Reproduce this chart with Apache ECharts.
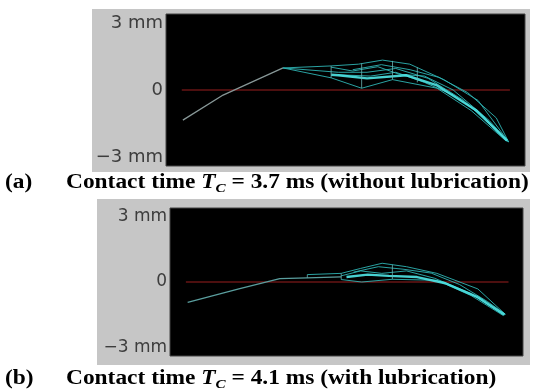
<!DOCTYPE html>
<html>
<head>
<meta charset="utf-8">
<script src="https://cdn.jsdelivr.net/npm/echarts@6/dist/echarts.min.js"></script>
<style>
html,body{margin:0;padding:0;background:#fff;}
#c{width:536px;height:391px;}
</style>
</head>
<body>
<div id="c"></div>
<script>
// ---- data (x: arbitrary position 0-100, y: displacement in mm) ----
var yTicks = [-3, 0, 3];
var yTickLabels = ['−3 mm', '0', '3 mm'];

// Panel (a): without lubrication
var aZeroX = [4.4, 95.8];
var aTrunkX = [4.7, 15.9, 32.6];
var aTrunkY = [-1.19, -0.20, 0.87];
var aUpperX = [32.6, 46.0, 53.6, 60.3, 67.9, 77.4, 86.9, 95.4];
var aUpperY = [0.87, 0.95, 1.02, 1.18, 1.02, 0.41, -0.41, -2.04];
var aLowerX = [32.6, 46.0, 54.5, 63.1, 75.5, 85.0, 94.4, 95.4];
var aLowerY = [0.87, 0.48, 0.07, 0.41, 0.07, -0.81, -1.97, -2.04];
var aMid1X = [32.6, 48.0, 56.0, 64.0, 73.0, 83.0, 92.0, 95.4];
var aMid1Y = [0.87, 0.70, 0.70, 0.85, 0.46, -0.42, -1.61, -2.04];
var aMid2X = [46.0, 52.0, 59.0, 65.0, 72.0, 80.0, 90.0, 95.4];
var aMid2Y = [0.90, 0.75, 0.92, 0.62, 0.55, 0.00, -1.20, -2.04];
var aMid3X = [48.0, 57.0, 64.0, 72.0, 80.0, 88.0, 95.4];
var aMid3Y = [0.60, 0.55, 0.70, 0.30, -0.20, -1.00, -2.04];
var aMid4X = [52.0, 60.0, 68.0, 76.0, 84.0, 92.0, 95.4];
var aMid4Y = [0.80, 1.00, 0.80, 0.50, -0.10, -1.10, -2.04];
var aBrightX = [46.0, 48.0, 56.0, 67.0, 75.5, 86.5, 95.0];
var aBrightY = [0.60, 0.58, 0.46, 0.58, 0.18, -0.81, -2.00];
var aRungX = [46.0, 54.5, 63.1, 70.0];
var aRungTop = [0.95, 1.05, 1.15, 0.90];
var aRungBottom = [0.48, 0.07, 0.41, 0.30];

// Panel (b): with lubrication
var bZeroX = [4.5, 95.9];
var bTrunkX = [5.0, 19.5, 31.1, 38.9, 48.5];
var bTrunkY = [-0.83, -0.28, 0.14, 0.17, 0.21];
var bUpperX = [38.9, 48.5, 54.0, 60.1, 67.0, 75.6, 87.2, 95.0];
var bUpperY = [0.30, 0.35, 0.55, 0.76, 0.62, 0.35, -0.28, -1.31];
var bLowerX = [48.5, 54.3, 63.0, 75.6, 85.3, 94.4];
var bLowerY = [0.10, 0.00, 0.11, 0.07, -0.55, -1.36];
var bMid1X = [48.5, 54.0, 60.0, 67.0, 75.0, 85.0, 94.6];
var bMid1Y = [0.25, 0.45, 0.35, 0.45, 0.15, -0.45, -1.34];
var bMid2X = [52.0, 59.0, 66.0, 74.0, 82.0, 90.0, 95.0];
var bMid2Y = [0.40, 0.62, 0.52, 0.36, -0.10, -0.80, -1.31];
var bBrightX = [50.0, 56.0, 62.0, 70.0, 78.0, 87.0, 94.8];
var bBrightY = [0.20, 0.30, 0.25, 0.20, -0.05, -0.60, -1.33];
var bRungX = [38.9, 48.5, 63.0];
var bRungTop = [0.30, 0.35, 0.70];
var bRungBottom = [0.17, 0.10, 0.11];

var captionA = ['(a)', 'Contact time ', 'T', 'C', ' = 3.7 ms (without lubrication)'];
var captionB = ['(b)', 'Contact time ', 'T', 'C', ' = 4.1 ms (with lubrication)'];

// ---- build ----
function pts(xs, ys) { return xs.map(function (x, i) { return [x, ys[i]]; }); }
function lineSeries(idx, xs, ys, color, width, opacity) {
  return {
    type: 'line', xAxisIndex: idx, yAxisIndex: idx, data: pts(xs, ys),
    showSymbol: false, symbol: 'none', silent: true, animation: false,
    lineStyle: { color: color, width: width, opacity: opacity }
  };
}
var series = [];
function panel(idx, zx, trunk, trunkColor, curves, bright, rungs) {
  series.push(lineSeries(idx, zx, [0, 0], '#9a1e1e', 1, 1));
  series.push(lineSeries(idx, trunk[0], trunk[1], trunkColor, 1.3, 1));
  curves.forEach(function (c) { series.push(lineSeries(idx, c[0], c[1], '#2fb4b4', 1, 0.9)); });
  series.push(lineSeries(idx, bright[0], bright[1], '#4fe6e6', 2.4, 0.9));
  rungs[0].forEach(function (x, i) {
    series.push(lineSeries(idx, [x, x], [rungs[1][i], rungs[2][i]], '#6ab4b4', 1, 0.8));
  });
}
panel(0, aZeroX, [aTrunkX, aTrunkY], '#879797',
  [[aUpperX, aUpperY], [aLowerX, aLowerY], [aMid1X, aMid1Y], [aMid2X, aMid2Y], [aMid3X, aMid3Y], [aMid4X, aMid4Y]],
  [aBrightX, aBrightY], [aRungX, aRungTop, aRungBottom]);
panel(1, bZeroX, [bTrunkX, bTrunkY], '#5a9e9e',
  [[bUpperX, bUpperY], [bLowerX, bLowerY], [bMid1X, bMid1Y], [bMid2X, bMid2Y]],
  [bBrightX, bBrightY], [bRungX, bRungTop, bRungBottom]);

function yAxis(idx, fs) {
  return {
    type: 'value', gridIndex: idx, min: -3, max: 3, interval: 3,
    axisLine: { show: false }, axisTick: { show: false }, splitLine: { show: false },
    axisLabel: {
      margin: 3, color: '#3d3d3d', fontFamily: 'DejaVu Sans', fontSize: fs,
      verticalAlignMaxLabel: 'top', verticalAlignMinLabel: 'bottom',
      formatter: function (v) { var k = yTicks.indexOf(v); return k >= 0 ? yTickLabels[k] : ''; }
    }
  };
}
function xAxis(idx) {
  return { type: 'value', gridIndex: idx, min: 0, max: 100, show: false };
}

var FS = 20;
function capRich() {
  var base = { fontFamily: 'Liberation Serif', fontWeight: 'bold', fontSize: FS, fill: '#000', lineHeight: 24 };
  return {
    b: base,
    i: Object.assign({}, base, { fontStyle: 'italic' }),
    s: Object.assign({}, base, { fontStyle: 'italic', fontSize: 13, verticalAlign: 'bottom', lineHeight: 18 })
  };
}
function capText(c) { return '{b|' + c[1] + '}{i|' + c[2] + '}{s|' + c[3] + '}{b|' + c[4] + '}'; }
function capLabel(text, x, y) {
  return { type: 'text', x: x, y: y, scaleX: 1.17, z: 10,
    style: { text: text, fontFamily: 'Liberation Serif', fontWeight: 'bold', fontSize: FS, fill: '#000', verticalAlign: 'top' } };
}
function capMain(c, x, y) {
  return { type: 'text', x: x, y: y, scaleX: 1.17, z: 10,
    style: { text: capText(c), rich: capRich(), verticalAlign: 'top' } };
}

var chart = echarts.init(document.getElementById('c'), null, { renderer: 'canvas' });
chart.setOption({
  backgroundColor: '#fff',
  animation: false,
  graphic: [
    { type: 'rect', z: -10, shape: { x: 92, y: 9, width: 438, height: 163 }, style: { fill: '#c6c6c6' } },
    { type: 'rect', z: -10, shape: { x: 97, y: 199, width: 433, height: 166 }, style: { fill: '#c6c6c6' } },
    capLabel(captionA[0], 5, 173),
    capMain(captionA, 66, 171),
    capLabel(captionB[0], 5, 369),
    capMain(captionB, 66, 367)
  ],
  grid: [
    { left: 166, top: 14, width: 359, height: 152, show: true, backgroundColor: '#000', borderColor: '#444', borderWidth: 1 },
    { left: 170, top: 208, width: 353, height: 148, show: true, backgroundColor: '#000', borderColor: '#444', borderWidth: 1 }
  ],
  xAxis: [xAxis(0), xAxis(1)],
  yAxis: [yAxis(0, 18), yAxis(1, 17)],
  series: series
});
</script>
</body>
</html>
